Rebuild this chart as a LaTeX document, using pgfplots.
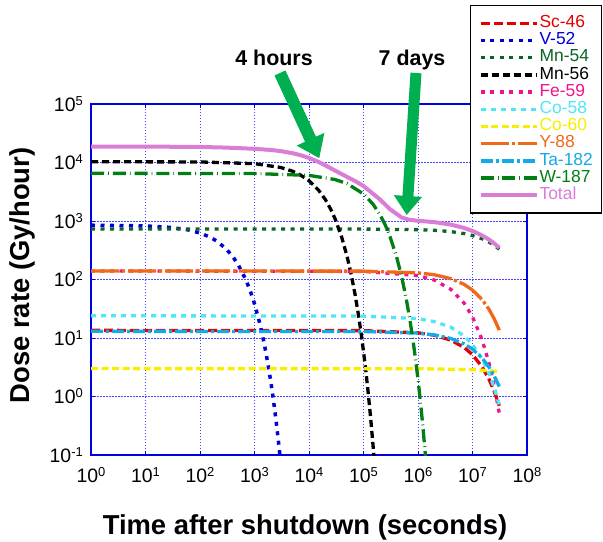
\documentclass[border=0pt]{standalone}
\usepackage{fontspec}
\setmainfont{Liberation Sans}
\usepackage{pgfplots}
\pgfplotsset{compat=1.18}
\usetikzlibrary{arrows.meta}
\definecolor{cSc}{RGB}{228,0,0}
\definecolor{cV}{RGB}{0,0,215}
\definecolor{cMnA}{RGB}{10,100,35}
\definecolor{cMnB}{RGB}{0,0,0}
\definecolor{cFe}{RGB}{240,20,140}
\definecolor{cCoA}{RGB}{80,230,250}
\definecolor{cCoB}{RGB}{248,238,0}
\definecolor{cY}{RGB}{240,105,25}
\definecolor{cTa}{RGB}{20,170,230}
\definecolor{cW}{RGB}{0,128,20}
\definecolor{cTot}{RGB}{218,125,215}
\definecolor{axblue}{RGB}{0,0,225}
\definecolor{gridblue}{RGB}{70,70,255}
\definecolor{arrgreen}{RGB}{0,176,80}
\newcommand{\tp}[1]{10\raisebox{6pt}{\fontsize{13}{14}\selectfont #1}}
\begin{document}
\begin{tikzpicture}
\useasboundingbox (0,0) rectangle (603bp,542bp);
\begin{axis}[
  at={(91bp,87bp)}, anchor=south west, scale only axis,
  width=436bp, height=351bp,
  xmode=log, ymode=log, xmin=1, xmax=1e8, ymin=0.1, ymax=1e5,
  xtick={1,10,100,1000,10000,100000,1000000,10000000,100000000},
  xticklabels={\tp{0},\tp{1},\tp{2},\tp{3},\tp{4},\tp{5},\tp{6},\tp{7},\tp{8}},
  ytick={0.1,1,10,100,1000,10000,100000},
  yticklabels={\tp{-1},\tp{0},\tp{1},\tp{2},\tp{3},\tp{4},\tp{5}},
  xminorticks=false, yminorticks=false,
  tick align=inside, major tick length=4bp,
  tick style={color=axblue, line width=0.8bp},
  axis line style={color=axblue, line width=1.2bp},
  grid=major,
  major grid style={color=gridblue, line width=0.7bp, dash pattern=on 1.5bp off 1.5bp},
  ticklabel style={font=\fontsize{19.5}{21}\selectfont, text=black},
  xticklabel style={inner sep=0pt, yshift=-12.5bp},
  yticklabel style={inner sep=0pt, xshift=-8bp},
  xlabel={Time after shutdown (seconds)},
  ylabel={Dose rate (Gy/hour)},
  every axis x label/.style={at={(axis description cs:0.4908,-0.2279)}, anchor=base, font=\bfseries\fontsize{27.5}{29}\selectfont},
  every axis y label/.style={at={(axis description cs:-0.1422,0.5114)}, rotate=90, anchor=base, font=\bfseries\fontsize{27.5}{29}\selectfont},
  legend image code/.code={\draw[#1] (0bp,0bp) -- (56bp,0bp);},
  legend cell align=left,
  legend style={at={(0.869,1.282)}, anchor=north west, draw=black, line width=1.3bp, fill=white,
    inner xsep=8bp, inner ysep=9bp, row sep=0pt,
    font=\fontsize{17.5}{18}\selectfont,
    nodes={inner sep=1bp, text height=11.8bp, text depth=3.4bp}},
]
% Sc-46
\addplot[cSc, line width=3.3bp, dash pattern=on 9bp off 4bp] coordinates {
(1,13.5) (1e5,13.37) (1e6,12.27) (2e6,11.15) (4e6,9.20) (7e6,6.91) (1e7,5.18) (1.5e7,3.21) (2e7,1.99) (2.5e7,1.23) (3.1e7,0.694)};
\addlegendentry{\textcolor{cSc}{Sc-46}}
% V-52
\addplot[cV, line width=3.5bp, dash pattern=on 4bp off 5.5bp] coordinates {
(1,847) (10,824) (30,775) (60,706) (100,624) (150,534) (200,458) (300,336) (400,246) (500,181) (700,97.4) (850,61.2) (1000,38.5) (1250,17.8) (1500,8.2) (1750,3.78) (2000,1.74) (2250,0.805) (2500,0.371) (2750,0.171) (3000,0.079)};
\addlegendentry{\textcolor{cV}{V-52}}
% Mn-54
\addplot[cMnA, line width=3.3bp, dash pattern=on 4bp off 5.5bp] coordinates {
(1,730) (1e5,728) (1e6,711.6) (2e6,693.4) (4e6,658.7) (7e6,610.1) (1e7,564.8) (1.5e7,496.8) (2e7,436.9) (2.5e7,384.2) (3.1e7,329.4)};
\addlegendentry{\textcolor{cMnA}{Mn-54}}
% Mn-56
\addplot[cMnB, line width=3.3bp, dash pattern=on 7bp off 4bp] coordinates {
(1,10300) (100,10220) (1000,9560) (3000,8233) (5000,7093) (7000,6108) (1e4,4884) (1.5e4,3362) (2e4,2315) (2.5e4,1594) (3e4,1098) (4e4,520) (5e4,247) (6e4,117) (7e4,55.5) (8e4,26.3) (9e4,12.47) (1e5,5.91) (1.1e5,2.80) (1.2e5,1.33) (1.3e5,0.63) (1.4e5,0.299) (1.5e5,0.1416) (1.6e5,0.067)};
\addlegendentry{\textcolor{cMnB}{Mn-56}}
% Fe-59
\addplot[cFe, line width=3.3bp, dash pattern=on 4bp off 5.5bp] coordinates {
(1,140) (1e5,137.5) (1e6,116.8) (2e6,97.6) (4e6,68.0) (7e6,39.6) (1e7,23.0) (1.5e7,9.34) (2e7,3.79) (2.5e7,1.54) (3.1e7,0.52)};
\addlegendentry{\textcolor{cFe}{Fe-59}}
% Co-58
\addplot[cCoA, line width=3.3bp, dash pattern=on 5bp off 5bp] coordinates {
(1,24) (1e5,23.7) (1e6,21.4) (2e6,19.1) (4e6,15.3) (7e6,10.9) (1e7,7.73) (1.5e7,4.39) (2e7,2.49) (2.5e7,1.41) (3.1e7,0.717)};
\addlegendentry{\textcolor{cCoA}{Co-58}}
% Co-60
\addplot[cCoB, line width=3.3bp, dash pattern=on 7bp off 3.5bp] coordinates {
(1,3.0) (1e6,2.99) (1e7,2.88) (2e7,2.76) (3.1e7,2.64)};
\addlegendentry{\textcolor{cCoB}{Co-60}}
% Y-88
\addplot[cY, line width=3.3bp, dash pattern=on 28bp off 3bp on 3bp off 3bp] coordinates {
(1,140) (1e5,138.9) (1e6,129.9) (2e6,120.4) (4e6,103.6) (7e6,82.7) (1e7,65.9) (1.5e7,45.3) (2e7,31.1) (2.5e7,21.3) (3.1e7,13.6)};
\addlegendentry{\textcolor{cY}{Y-88}}
% Ta-182
\addplot[cTa, line width=3.3bp, dash pattern=on 12bp off 3bp on 3bp off 3bp] coordinates {
(1,13) (1e5,12.91) (1e6,12.12) (2e6,11.30) (4e6,9.82) (7e6,7.95) (1e7,6.45) (1.5e7,4.54) (2e7,3.19) (2.5e7,2.25) (3.1e7,1.48)};
\addlegendentry{\textcolor{cTa}{Ta-182}}
% W-187
\addplot[cW, line width=3.3bp, dash pattern=on 13bp off 4bp on 0.8bp off 4bp] coordinates {
(1,6530) (1e3,6478) (1e4,6021) (3e4,5120) (5e4,4353) (1e5,2901) (1.5e5,1933) (2e5,1288) (2.5e5,859) (3e5,572) (4e5,254) (5e5,113) (6e5,50.1) (7e5,22.3) (8e5,9.89) (9e5,4.39) (1e6,1.95) (1.1e6,0.866) (1.2e6,0.385) (1.3e6,0.171) (1.4e6,0.0759)};
\addlegendentry{\textcolor{cW}{W-187}}
% Total
\addplot[cTot, line width=4bp] coordinates {
(1,18740) (10,18711) (100,18436) (300,17984) (1000,17140) (2000,16364) (3000,15670) (5000,14430) (7000,13342) (1e4,11969) (1.5e4,10208) (2e4,8932) (3e4,7282) (5e4,5664) (7e4,4817) (1e5,3964) (2e5,2339) (3e5,1617) (5e5,1147.5) (7e5,1045.7) (1e6,1009.0) (2e6,955.9) (4e6,867.6) (7e6,761.1) (1e7,675.9) (1.5e7,566.4) (2e7,482.2) (2.5e7,414.6) (3.1e7,349.1)};
\addlegendentry{\textcolor{cTot}{Total}}
\end{axis}
\node[font=\bfseries\fontsize{21.5}{23}\selectfont, anchor=base] at (274bp,476bp) {4 hours};
\node[font=\bfseries\fontsize{21.5}{23}\selectfont, anchor=base] at (412bp,476bp) {7 days};
\draw[line width=12bp, draw=arrgreen, fill=arrgreen, -{Triangle[width=29bp,length=21bp]}] (280bp,469bp) -- (319.3bp,383.7bp);
\draw[line width=11bp, draw=arrgreen, fill=arrgreen, -{Triangle[width=27bp,length=19bp]}] (416bp,469bp) -- (406.7bp,327bp);
\end{tikzpicture}
\end{document}
